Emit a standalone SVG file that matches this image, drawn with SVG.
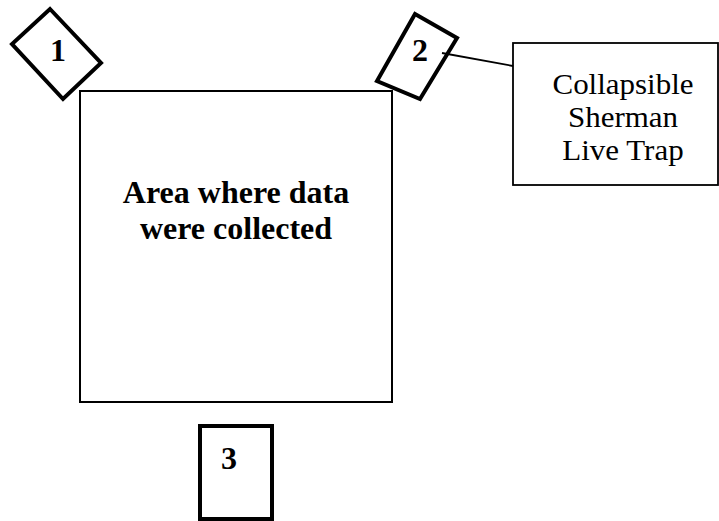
<svg xmlns="http://www.w3.org/2000/svg" width="719" height="521" viewBox="0 0 719 521">
<style>
.trap{fill:#fff;stroke:#000;stroke-width:4;stroke-linejoin:miter}
.area{fill:#fff;stroke:#000;stroke-width:2}
.label{fill:#fff;stroke:#000;stroke-width:1.8}
.num{font-family:"Liberation Serif",serif;font-weight:bold;font-size:32px;text-anchor:middle;fill:#000}
.big{font-family:"Liberation Serif",serif;font-weight:bold;font-size:32px;text-anchor:middle;fill:#000}
.reg{font-family:"Liberation Serif",serif;font-size:29.5px;text-anchor:middle;fill:#000}
.conn{stroke:#000;stroke-width:1.8;fill:none}
</style>
<rect width="719" height="521" fill="#fff"/>
<g id="area">
<rect class="area" x="80" y="91" width="312" height="311"/>
<text class="big" x="236" y="203">Area where data<tspan x="236" dy="36">were collected</tspan></text>
</g>
<g id="trap1">
<polygon class="trap" points="50,9 101,63 63,99 12,44"/>
<text class="num" x="58" y="61">1</text>
</g>
<g id="trap2">
<polygon class="trap" points="415,14 457,38 420,99 377,81"/>
<text class="num" x="420" y="61">2</text>
</g>
<g id="trap3">
<rect class="trap" x="200" y="426" width="72" height="93"/>
<text class="num" x="229" y="469">3</text>
</g>
<g id="label">
<rect class="label" x="513" y="43" width="205" height="142"/>
<text class="reg" transform="translate(623 0) scale(1.05 1)" x="0" y="94">Collapsible<tspan x="0" dy="33">Sherman</tspan><tspan x="0" dy="33">Live Trap</tspan></text>
</g>
<g id="connectors">
<line class="conn" x1="442" y1="53" x2="513" y2="66"/>
</g>
</svg>
